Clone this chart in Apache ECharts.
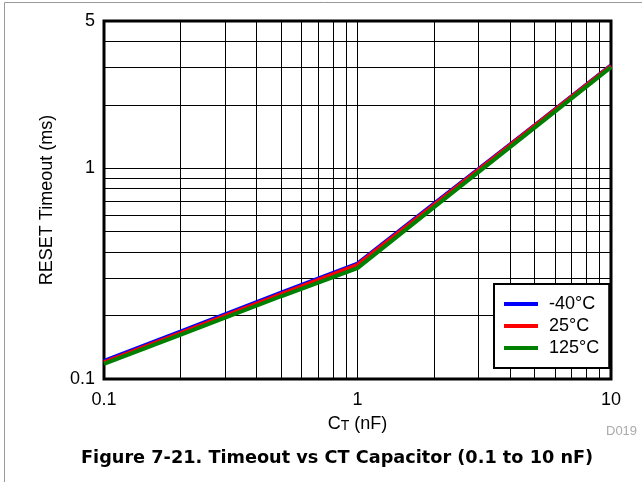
<!DOCTYPE html>
<html>
<head>
<meta charset="utf-8">
<script src="https://cdn.jsdelivr.net/npm/echarts@6/dist/echarts.min.js"></script>
<style>
  html, body { margin: 0; padding: 0; background: #fff; }
  #chart { width: 642px; height: 482px; }
</style>
</head>
<body>
<div id="chart"></div>
<script>
// C_T in nF
var capNF = [0.1, 0.2, 0.5, 1, 2, 5, 10];
// RESET timeout in ms, per temperature
var tNeg40 = [0.122, 0.168, 0.257, 0.353, 0.678, 1.60, 3.08];
var t25 = [0.120, 0.165, 0.253, 0.348, 0.669, 1.59, 3.06];
var t125 = [0.118, 0.162, 0.247, 0.336, 0.652, 1.56, 3.02];
var seriesNames = ['-40°C', '25°C', '125°C'];

// tick labels and grid lines
var xTicks = [0.1, 1, 10];
var yTicks = [0.1, 1, 5];
var xGrid = [0.2, 0.3, 0.4, 0.5, 0.6, 0.7, 0.8, 0.9, 1, 2, 3, 4, 5, 6, 7, 8, 9];
var yGrid = [0.2, 0.3, 0.4, 0.5, 0.6, 0.7, 0.8, 0.9, 1, 2, 3, 4];

var font = '"Liberation Sans", Arial, sans-serif';

function pairs(ys) {
  return capNF.map(function (x, i) { return [x, ys[i]]; });
}

var gridLines = xGrid.map(function (v) { return { xAxis: v }; })
  .concat(yGrid.map(function (v) { return { yAxis: v }; }));

var chart = echarts.init(document.getElementById('chart'));

chart.setOption({
  animation: false,
  textStyle: { fontFamily: font },
  title: [{
    text: 'Figure 7-21. Timeout vs CT Capacitor (0.1 to 10 nF)',
    left: 81,
    top: 449,
    padding: 0,
    textStyle: { fontFamily: '"DejaVu Sans", sans-serif', fontWeight: 'bold', fontSize: 17.7, color: '#000' }
  }, {
    text: 'D019',
    left: 606,
    top: 425,
    padding: 0,
    textStyle: { fontFamily: font, fontWeight: 'normal', fontSize: 13, color: '#aaa' }
  }],
  graphic: [{
    type: 'rect',
    shape: { x: 4.5, y: 2.5, width: 700, height: 600 },
    style: { fill: 'none', stroke: '#999', lineWidth: 1 },
    silent: true
  }],
  grid: {
    left: 104, right: 31, top: 21, bottom: 103,
    show: true, borderColor: '#000', borderWidth: 3, backgroundColor: '#fff'
  },
  legend: {
    orient: 'vertical',
    left: 494, top: 284,
    z: 10,
    data: seriesNames,
    icon: 'rect',
    itemWidth: 34, itemHeight: 4, itemGap: 4,
    padding: [11, 10, 11, 10],
    backgroundColor: '#fff',
    borderColor: '#000', borderWidth: 2, borderRadius: 0,
    textStyle: { fontFamily: font, fontSize: 18, color: '#000', lineHeight: 18, padding: [0, 0, 0, 6] }
  },
  xAxis: {
    type: 'log', logBase: 10, min: 0.1, max: 10,
    name: '{c|C}{s|T}{c| (nF)}',
    nameLocation: 'middle', nameGap: 36,
    nameTextStyle: {
      rich: {
        c: { fontFamily: font, fontSize: 18, color: '#000', padding: [0, 0, 4, 0] },
        s: { fontFamily: font, fontSize: 14, color: '#000' }
      }
    },
    axisLine: { show: false },
    axisTick: { show: false },
    splitLine: { show: false },
    minorTick: { show: false },
    axisLabel: {
      customValues: xTicks, margin: 12,
      fontFamily: font, fontSize: 18, color: '#000',
      formatter: function (v) { return String(+(+v).toPrecision(3)); }
    }
  },
  yAxis: {
    type: 'log', logBase: 10, min: 0.1, max: 5,
    name: 'RESET Timeout (ms)',
    nameLocation: 'middle', nameRotate: 90, nameGap: 48,
    nameTextStyle: { fontFamily: font, fontSize: 18, color: '#000' },
    axisLine: { show: false },
    axisTick: { show: false },
    splitLine: { show: false },
    axisLabel: {
      customValues: yTicks, margin: 9,
      fontFamily: font, fontSize: 18, color: '#000',
      formatter: function (v) { return String(+(+v).toPrecision(3)); }
    }
  },
  series: [{
    name: 'grid',
    type: 'line',
    data: [],
    z: 1,
    silent: true,
    markLine: {
      z: 1,
      silent: true,
      symbol: 'none',
      label: { show: false },
      lineStyle: { color: '#000', width: 1, type: 'solid' },
      emphasis: { disabled: true },
      data: gridLines
    }
  }, {
    name: seriesNames[0], type: 'line', data: pairs(tNeg40), z: 3,
    showSymbol: false, symbol: 'none', color: '#0000ff',
    lineStyle: { width: 4, color: '#0000ff' }
  }, {
    name: seriesNames[1], type: 'line', data: pairs(t25), z: 3,
    showSymbol: false, symbol: 'none', color: '#ff0000',
    lineStyle: { width: 4, color: '#ff0000' }
  }, {
    name: seriesNames[2], type: 'line', data: pairs(t125), z: 3,
    showSymbol: false, symbol: 'none', color: '#008000',
    lineStyle: { width: 4, color: '#008000' }
  }]
});
</script>
</body>
</html>
